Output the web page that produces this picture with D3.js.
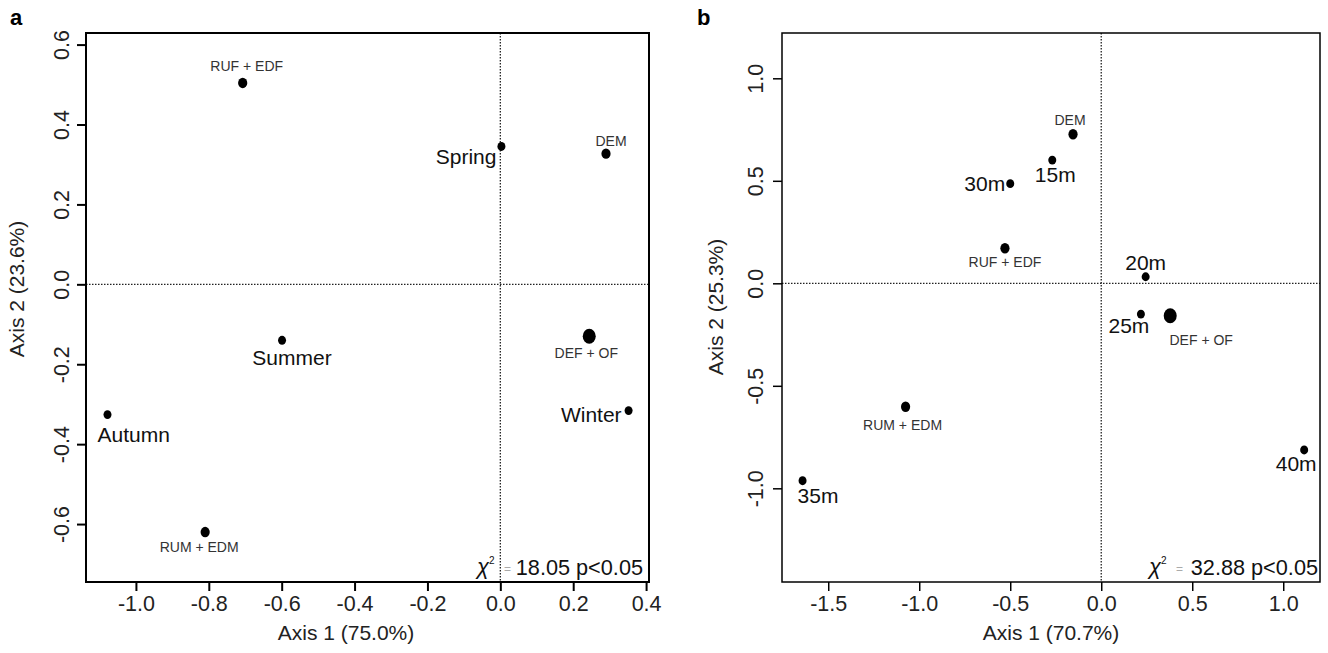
<!DOCTYPE html>
<html>
<head>
<meta charset="utf-8">
<script src="https://cdn.jsdelivr.net/npm/d3@7"></script>
<style>
  body { margin: 0; background: #fff; }
  svg text { font-family: "Liberation Sans", Arial, sans-serif; }
</style>
</head>
<body>
<svg id="chart"></svg>
<script>
// panel a: seasons and feeding groups (axis 1, axis 2 scores)
const seasonNames = ['Spring', 'Summer', 'Autumn', 'Winter'];
const seasonAxis1 = [0.003, -0.599, -1.078, 0.352];
const seasonAxis2 = [0.345, -0.140, -0.326, -0.316];
const groupNamesA = ['RUF + EDF', 'DEM', 'DEF + OF', 'RUM + EDM'];
const groupAxis1A = [-0.707, 0.290, 0.244, -0.810];
const groupAxis2A = [0.504, 0.327, -0.130, -0.620];

// panel b: depths and feeding groups
const depthNames = ['15m', '20m', '25m', '30m', '35m', '40m'];
const depthAxis1 = [-0.269, 0.244, 0.218, -0.500, -1.641, 1.115];
const depthAxis2 = [0.601, 0.032, -0.150, 0.486, -0.963, -0.813];
const groupNamesB = ['DEM', 'RUF + EDF', 'DEF + OF', 'RUM + EDM'];
const groupAxis1B = [-0.155, -0.529, 0.379, -1.075];
const groupAxis2B = [0.727, 0.171, -0.158, -0.602];

// axis limits and ticks
const limitsAx = [-1.137, 0.408];
const limitsAy = [-0.745, 0.629];
const limitsBx = [-1.754, 1.202];
const limitsBy = [-1.457, 1.221];
const ticksAx = [-1.0, -0.8, -0.6, -0.4, -0.2, 0.0, 0.2, 0.4];
const ticksAy = [-0.6, -0.4, -0.2, 0.0, 0.2, 0.4, 0.6];
const ticksBx = [-1.5, -1.0, -0.5, 0.0, 0.5, 1.0];
const ticksBy = [-1.0, -0.5, 0.0, 0.5, 1.0];

const axisTitlesA = ['Axis 1 (75.0%)', 'Axis 2 (23.6%)'];
const axisTitlesB = ['Axis 1 (70.7%)', 'Axis 2 (25.3%)'];
const chiValues = ['18.05', '32.88'];
const pText = 'p<0.05';

const width = 1328;
const height = 653;
const plotTop = 33;
const plotBottom = 582;

// label placement relative to its point: dx, dy (baseline), anchor
const labelPos = {
    'a:Spring':    [-5, 18, 'end'],
    'a:Summer':    [10, 25, 'middle'],
    'a:Autumn':    [-10, 27, 'start'],
    'a:Winter':    [-7, 11, 'end'],
    'a:RUF + EDF': [4, -12, 'middle'],
    'a:DEM':       [5, -8, 'middle'],
    'a:DEF + OF':  [-3, 22, 'middle'],
    'a:RUM + EDM': [-6, 20, 'middle'],
    'b:15m':       [3, 22, 'middle'],
    'b:20m':       [0, -7, 'middle'],
    'b:25m':       [-12, 19, 'middle'],
    'b:30m':       [-5, 7, 'end'],
    'b:35m':       [-5, 22, 'start'],
    'b:40m':       [-8, 21, 'middle'],
    'b:DEM':       [-3, -9, 'middle'],
    'b:RUF + EDF': [0, 19, 'middle'],
    'b:DEF + OF':  [31, 29, 'middle'],
    'b:RUM + EDM': [-3, 23, 'middle']
};

let svg = d3.select('#chart').attr('width', width).attr('height', height);

function fmt (d) {
    return d.toFixed(1);
}

function drawPanel (p) {
    let xScale = d3.scaleLinear().domain(p.xLim).range([p.left, p.right]);
    let yScale = d3.scaleLinear().domain(p.yLim).range([plotBottom, plotTop]);

    // dotted zero lines
    svg.append('line')
        .attr('x1', xScale(0)).attr('x2', xScale(0))
        .attr('y1', plotTop).attr('y2', plotBottom)
        .attr('stroke', '#222').attr('stroke-width', 1.3)
        .attr('stroke-dasharray', '1.5,1.5');
    svg.append('line')
        .attr('x1', p.left).attr('x2', p.right)
        .attr('y1', yScale(0)).attr('y2', yScale(0))
        .attr('stroke', '#222').attr('stroke-width', 1.3)
        .attr('stroke-dasharray', '1.5,1.5');

    let xAxis = d3.axisBottom(xScale).tickValues(p.xTicks).tickSize(9).tickFormat(fmt);
    let gx = svg.append('g')
        .attr('transform', 'translate(0,' + plotBottom + ')')
        .call(xAxis);
    gx.select('.domain').remove();
    gx.selectAll('.tick line').attr('stroke', '#000').attr('stroke-width', p.lineWidth);
    gx.selectAll('.tick text')
        .attr('y', 29).attr('dy', 0)
        .attr('font-size', 21.5).attr('fill', '#222');

    let yAxis = d3.axisLeft(yScale).tickValues(p.yTicks).tickSize(9).tickFormat(fmt);
    let gy = svg.append('g')
        .attr('transform', 'translate(' + p.left + ',0)')
        .call(yAxis);
    gy.select('.domain').remove();
    gy.selectAll('.tick line').attr('stroke', '#000').attr('stroke-width', p.lineWidth);
    gy.selectAll('.tick text')
        .attr('x', 0).attr('dy', 0)
        .attr('text-anchor', 'middle')
        .attr('transform', 'translate(' + (-p.yLabelGap) + ',0) rotate(-90)')
        .attr('font-size', 21.5).attr('fill', '#222');

    svg.append('rect')
        .attr('x', p.left).attr('y', plotTop)
        .attr('width', p.right - p.left).attr('height', plotBottom - plotTop)
        .attr('fill', 'none').attr('stroke', '#000').attr('stroke-width', p.lineWidth);

    // points + labels
    let pts = [];
    p.bigNames.forEach((n, i) => pts.push({name: n, x: p.bigX[i], y: p.bigY[i], big: true}));
    p.smallNames.forEach((n, i) => pts.push({name: n, x: p.smallX[i], y: p.smallY[i], big: false}));

    svg.append('g').selectAll('ellipse')
        .data(pts)
        .enter()
        .append('ellipse')
        .attr('cx', d => xScale(d.x))
        .attr('cy', d => yScale(d.y))
        .attr('rx', d => d.name === 'DEF + OF' ? 6.5 : (d.big ? 4 : 4.6))
        .attr('ry', d => d.name === 'DEF + OF' ? 7.5 : (d.big ? 4.4 : 5.2))
        .attr('fill', '#000');

    svg.append('g').selectAll('text')
        .data(pts)
        .enter()
        .append('text')
        .attr('x', d => xScale(d.x) + labelPos[p.id + ':' + d.name][0])
        .attr('y', d => yScale(d.y) + labelPos[p.id + ':' + d.name][1])
        .attr('text-anchor', d => labelPos[p.id + ':' + d.name][2])
        .attr('font-size', d => d.big ? 21 : 14)
        .attr('fill', d => d.big ? '#111' : '#333')
        .text(d => d.name);

    // axis titles
    svg.append('text')
        .attr('x', p.xTitleX).attr('y', 640)
        .attr('text-anchor', 'middle')
        .attr('font-size', 21).attr('fill', '#222')
        .text(p.titles[0]);
    svg.append('text')
        .attr('text-anchor', 'middle')
        .attr('transform', 'translate(' + p.yTitleX + ',' + p.yTitleY + ') rotate(-90)')
        .attr('font-size', 21).attr('fill', '#222')
        .text(p.titles[1]);

    // chi-square note
    let chi = svg.append('g');
    chi.append('text')
        .attr('x', p.right - p.chiEnd).attr('y', 575)
        .attr('text-anchor', 'end')
        .attr('font-size', 21.7).attr('fill', '#111')
        .text(p.chi + ' ' + pText);
    chi.append('text')
        .attr('x', p.right - p.chiEnd - p.eqGap).attr('y', 573)
        .attr('text-anchor', 'end')
        .attr('font-size', 12).attr('fill', '#aaa')
        .text('=');
    let c = chi.append('text')
        .attr('x', p.right - p.chiStart).attr('y', 574)
        .attr('font-family', '"Liberation Serif", "DejaVu Serif", serif')
        .attr('font-style', 'italic')
        .attr('font-size', 22).attr('fill', '#111');
    c.append('tspan').text('χ');
    c.append('tspan').attr('font-size', 10).attr('font-style', 'normal')
        .attr('dy', -10).text('2');

    svg.append('text')
        .attr('x', p.tagX).attr('y', 25)
        .attr('font-size', 22).attr('font-weight', 'bold').attr('fill', '#000')
        .text(p.id);
}

drawPanel({
    id: 'a', left: 86, right: 649, xLim: limitsAx, yLim: limitsAy,
    xTicks: ticksAx, yTicks: ticksAy, lineWidth: 2, yLabelGap: 17.5,
    bigNames: seasonNames, bigX: seasonAxis1, bigY: seasonAxis2,
    smallNames: groupNamesA, smallX: groupAxis1A, smallY: groupAxis2A,
    titles: axisTitlesA, xTitleX: 346, yTitleX: 24, yTitleY: 289,
    chi: chiValues[0], chiEnd: 6, eqGap: 132, chiStart: 172, tagX: 10
});

drawPanel({
    id: 'b', left: 782, right: 1320, xLim: limitsBx, yLim: limitsBy,
    xTicks: ticksBx, yTicks: ticksBy, lineWidth: 1.5, yLabelGap: 19,
    bigNames: depthNames, bigX: depthAxis1, bigY: depthAxis2,
    smallNames: groupNamesB, smallX: groupAxis1B, smallY: groupAxis2B,
    titles: axisTitlesB, xTitleX: 1051, yTitleX: 723, yTitleY: 307,
    chi: chiValues[1], chiEnd: 2, eqGap: 135, chiStart: 171, tagX: 697
});
</script>
</body>
</html>
